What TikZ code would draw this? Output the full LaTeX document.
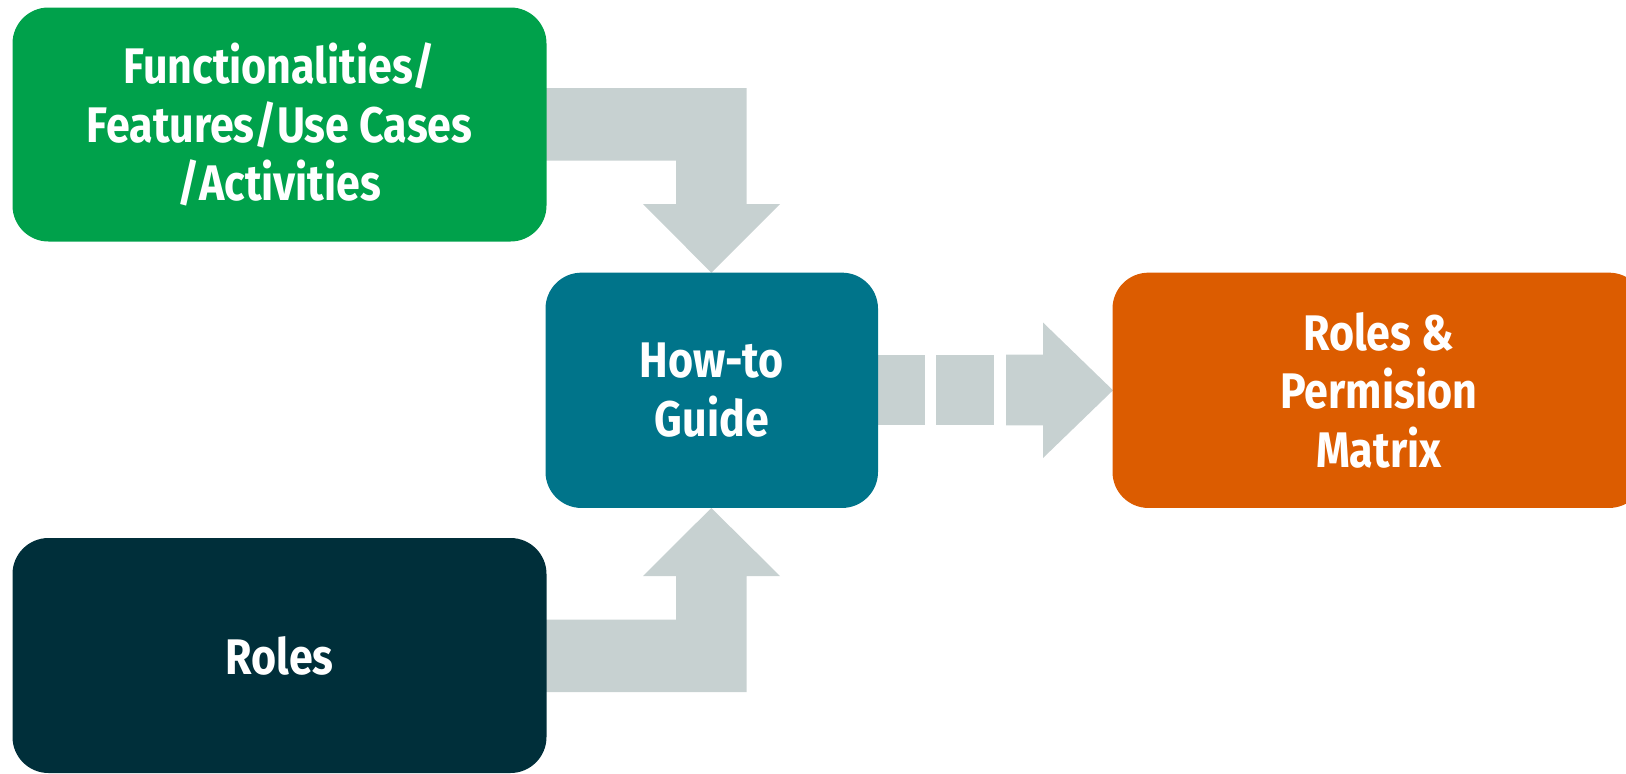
\documentclass[tikz,border=0pt]{standalone}
\usepackage{fontspec}
\newfontfamily\labelfont{Fira Sans}[FakeStretch=0.86]
\definecolor{cgreen}{HTML}{00A14B}
\definecolor{cteal}{HTML}{00748A}
\definecolor{corange}{HTML}{DC5C00}
\definecolor{cdark}{HTML}{002F3A}
\definecolor{cgray}{HTML}{C7D1D1}
\begin{document}
\begin{tikzpicture}[x=1pt,y=-1pt,
  box/.style={rectangle, rounded corners=36pt, inner sep=0pt, align=center,
    text=white, font=\labelfont\bfseries\fontsize{50}{58.5}\selectfont},
  blockarrow/.style={fill=cgray, draw=none}]
\useasboundingbox (0,0) rectangle (1626,774);
% block arrows (drawn behind boxes)
\fill[blockarrow] (546,88) -- (746.6,88) -- (746.6,204) -- (780,204) -- (711.3,272.7)
  -- (643,204) -- (676,204) -- (676,160.7) -- (546,160.7) -- cycle;
\fill[blockarrow] (546,692) -- (746.6,692) -- (746.6,576) -- (780,576) -- (711.3,508)
  -- (643,576) -- (676,576) -- (676,619.7) -- (546,619.7) -- cycle;
\fill[blockarrow] (876,354.7) rectangle (925,425.3);
\fill[blockarrow] (936,354.7) rectangle (994,425.3);
\fill[blockarrow] (1006,354.7) -- (1043,354.7) -- (1043,322.5) -- (1113,390.3)
  -- (1043,458) -- (1043,425.3) -- (1006,425.3) -- cycle;
% boxes
\node[box, fill=cgreen, minimum width=534pt, minimum height=234pt] (fun) at (279.5,124.5)
  {Functionalities/\\Features/Use Cases\\/Activities};
\node[box, fill=cteal, minimum width=332.5pt, minimum height=235.3pt] (guide) at (711.75,390.3)
  {How-to\\Guide};
\node[box, fill=corange, minimum width=532.5pt, minimum height=235.3pt] (matrix) at (1378.75,390.3)
  {Roles \&\\Permision\\Matrix};
\node[box, fill=cdark, minimum width=534pt, minimum height=235pt] (roles) at (279.5,655.5)
  {Roles};
\end{tikzpicture}
\end{document}
